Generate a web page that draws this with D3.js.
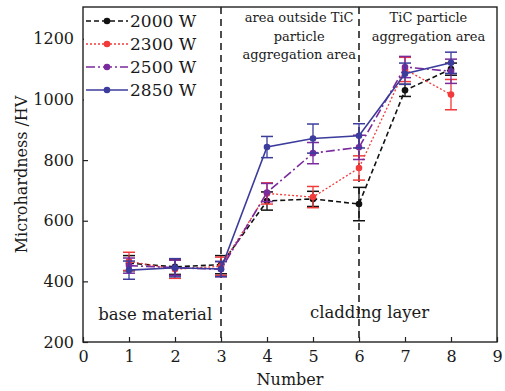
<!DOCTYPE html>
<html>
<head>
<meta charset="utf-8">
<script src="https://cdn.jsdelivr.net/npm/d3@7"></script>
<style>
  body { margin: 0; background: #fff; }
  text { font-family: "DejaVu Serif", "Liberation Serif", serif; fill: #1a1a1a; }
</style>
</head>
<body>
<div id="chart"></div>
<script>
// data
const numbers = [1, 2, 3, 4, 5, 6, 7, 8];
const seriesNames = ["2000 W", "2300 W", "2500 W", "2850 W"];
const hv2000 = [460, 448, 455, 665, 672, 655, 1030, 1100];
const hv2300 = [466, 440, 450, 690, 678, 774, 1099, 1016];
const hv2500 = [452, 445, 440, 693, 823, 842, 1107, 1093];
const hv2850 = [437, 445, 441, 843, 871, 880, 1085, 1121];
const err2000 = [25, 25, 30, 30, 25, 55, 20, 20];
const err2300 = [30, 30, 30, 35, 35, 40, 40, 50];
const err2500 = [25, 25, 25, 30, 35, 40, 35, 40];
const err2850 = [30, 30, 25, 35, 48, 40, 35, 35];
const xTicks = [0, 1, 2, 3, 4, 5, 6, 7, 8, 9];
const yTicks = [200, 400, 600, 800, 1000, 1200];
const dividers = [3, 6];

const W = 505, H = 391;
const m = { left: 83, right: 8, top: 7, bottom: 49 };

const svg = d3.select("#chart").append("svg")
    .attr("width", W).attr("height", H);

const x = d3.scaleLinear().domain([0, 9]).range([m.left, W - m.right]);
const y = d3.scaleLinear().domain([200, 1305]).range([H - m.bottom, m.top]);

// axes
svg.append("g")
    .attr("transform", `translate(0,${H - m.bottom})`)
    .call(d3.axisBottom(x).tickValues(xTicks).tickFormat(d3.format("d"))
        .tickSizeInner(-5).tickSizeOuter(0).tickPadding(9))
    .call(g => g.select(".domain").remove())
    .call(g => g.selectAll("text").attr("font-size", 16).attr("fill", "#1a1a1a"))
    .call(g => g.selectAll("line").attr("stroke", "#222").attr("stroke-width", 1.2));

svg.append("g")
    .attr("transform", `translate(${m.left},0)`)
    .call(d3.axisLeft(y).tickValues(yTicks).tickFormat(d3.format("d"))
        .tickSizeInner(-5).tickSizeOuter(0).tickPadding(9))
    .call(g => g.select(".domain").remove())
    .call(g => g.selectAll("text").attr("font-size", 16).attr("fill", "#1a1a1a"))
    .call(g => g.selectAll("line").attr("stroke", "#222").attr("stroke-width", 1.2));

// frame
svg.append("rect")
    .attr("x", m.left).attr("y", m.top)
    .attr("width", W - m.left - m.right).attr("height", H - m.top - m.bottom)
    .attr("fill", "none").attr("stroke", "#222").attr("stroke-width", 1.4);

// region dividers
svg.selectAll("line.divider")
    .data(dividers)
    .enter().append("line")
    .attr("class", "divider")
    .attr("x1", d => x(d)).attr("x2", d => x(d))
    .attr("y1", m.top).attr("y2", H - m.bottom)
    .attr("stroke", "#222").attr("stroke-width", 1.6)
    .attr("stroke-dasharray", "7,5");

// series
const series = [
    { name: seriesNames[0], vals: hv2000, err: err2000, color: "#111", dash: "5,3", width: 1.6 },
    { name: seriesNames[1], vals: hv2300, err: err2300, color: "#f23a3a", dash: "2,2", width: 1.3 },
    { name: seriesNames[2], vals: hv2500, err: err2500, color: "#7a2a9c", dash: "9,3,2,3", width: 1.6 },
    { name: seriesNames[3], vals: hv2850, err: err2850, color: "#3b3c9c", dash: null, width: 1.6 }
];

const line = d3.line().x((d, i) => x(numbers[i])).y(d => y(d));

series.forEach(s => {
    const g = svg.append("g");
    g.append("path")
        .attr("d", line(s.vals))
        .attr("fill", "none")
        .attr("stroke", s.color)
        .attr("stroke-width", s.width)
        .attr("stroke-dasharray", s.dash);

    const eb = g.selectAll("g.err")
        .data(s.vals)
        .enter().append("g");
    eb.append("line")
        .attr("x1", (d, i) => x(numbers[i])).attr("x2", (d, i) => x(numbers[i]))
        .attr("y1", (d, i) => y(d - s.err[i])).attr("y2", (d, i) => y(d + s.err[i]))
        .attr("stroke", s.color).attr("stroke-width", 1.3);
    [-1, 1].forEach(sign => {
        eb.append("line")
            .attr("x1", (d, i) => x(numbers[i]) - 6).attr("x2", (d, i) => x(numbers[i]) + 6)
            .attr("y1", (d, i) => y(d + sign * s.err[i])).attr("y2", (d, i) => y(d + sign * s.err[i]))
            .attr("stroke", s.color).attr("stroke-width", 1.5);
    });

    g.selectAll("circle")
        .data(s.vals)
        .enter().append("circle")
        .attr("cx", (d, i) => x(numbers[i]))
        .attr("cy", d => y(d))
        .attr("r", 3.3)
        .attr("fill", s.color);
});

// legend
const legend = svg.append("g");
legend.append("rect")
    .attr("x", m.left + 1).attr("y", m.top + 1)
    .attr("width", 115).attr("height", 94)
    .attr("fill", "#fff");
series.forEach((s, i) => {
    const ly = 21 + i * 23;
    legend.append("line")
        .attr("x1", 86).attr("x2", 128)
        .attr("y1", ly).attr("y2", ly)
        .attr("stroke", s.color).attr("stroke-width", s.width)
        .attr("stroke-dasharray", s.dash);
    legend.append("circle")
        .attr("cx", 107).attr("cy", ly).attr("r", 3.3).attr("fill", s.color);
    legend.append("text")
        .attr("x", 130).attr("y", ly + 6)
        .attr("font-size", 17)
        .text(s.name);
});

// region annotations
const notes = [
    { x: 4.7, y: 22, lines: ["area outside TiC", "particle", "aggregation area"] },
    { x: 7.51, y: 22, lines: ["TiC particle", "aggregation area"] }
];
notes.forEach(n => {
    n.lines.forEach((t, i) => {
        svg.append("text")
            .attr("x", x(n.x)).attr("y", n.y + i * 18.5)
            .attr("text-anchor", "middle")
            .attr("font-size", 13)
            .text(t);
    });
});

svg.append("text")
    .attr("x", x(1.57)).attr("y", 320)
    .attr("text-anchor", "middle").attr("font-size", 16.5)
    .text("base material");
svg.append("text")
    .attr("x", x(6.23)).attr("y", 318)
    .attr("text-anchor", "middle").attr("font-size", 16.5)
    .text("cladding layer");

// axis titles
svg.append("text")
    .attr("x", x(4.5)).attr("y", 385)
    .attr("text-anchor", "middle").attr("font-size", 16)
    .text("Number");
svg.append("text")
    .attr("transform", `translate(27,${(m.top + H - m.bottom) / 2}) rotate(-90)`)
    .attr("text-anchor", "middle").attr("font-size", 16)
    .text("Microhardness /HV");
</script>
</body>
</html>
